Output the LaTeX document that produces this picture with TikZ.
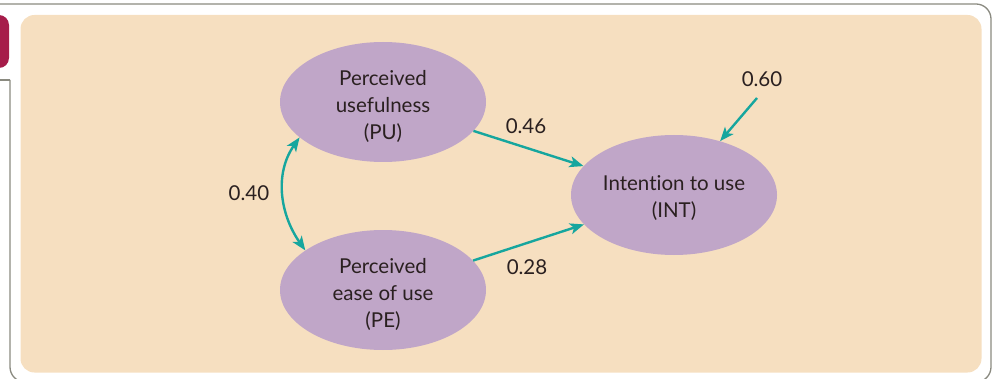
\documentclass[tikz,border=0pt]{standalone}
\usepackage{fontspec}
\setmainfont{Lato}[Ligatures=NoCommon]
\usetikzlibrary{arrows.meta,shapes.geometric}
\definecolor{beige}{RGB}{246,223,192}
\definecolor{lav}{RGB}{192,166,200}
\definecolor{teal2}{RGB}{22,166,158}
\definecolor{crim}{RGB}{166,28,74}
\definecolor{framegray}{RGB}{138,138,128}
\definecolor{txt}{RGB}{42,32,32}
\begin{document}
\begin{tikzpicture}[x=1pt,y=1pt,
  latent/.style={ellipse, fill=lav, minimum width=206pt, minimum height=120pt, inner sep=0pt},
  latenttext/.style={align=center, text=txt, font=\fontsize{20.5}{27}\selectfont, inner sep=0pt, yshift=-4pt},
  coef/.style={text=txt, font=\fontsize{20.5}{24}\selectfont, inner sep=1pt},
  path arrow/.style={draw=teal2, line width=2.4pt, -{Stealth[length=14pt,width=11pt,inset=3.5pt]}},
  dbl arrow/.style={draw=teal2, line width=2.4pt, {Stealth[length=14pt,width=11pt,inset=3.5pt]}-{Stealth[length=14pt,width=11pt,inset=3.5pt]}},
  frameline/.style={draw=framegray, line width=1.3pt}]
\useasboundingbox (0,0) rectangle (995,378);
% outer frame
\draw[frameline] (0,298) -- (10,298);
\draw[frameline, rounded corners=15pt] (10,298) -- (10,-4) -- (991,-4) -- (991,374) -- (0,374);
% tab
\fill[crim, rounded corners=10pt] (-20,310) rectangle (9,363);
% panel
\fill[beige, rounded corners=14pt] (20.5,5.5) rectangle (981.5,363);
% nodes
\node[latent] (PU) at (383,276) {};
\node[latent] (PE) at (383,88) {};
\node[latent] (INT) at (674,183) {};
\node[latenttext] (PUt) at (PU) {Perceived\\usefulness\\(PU)};
\node[latenttext] (PEt) at (PE) {Perceived\\ease of use\\(PE)};
\node[latenttext, yshift=1pt] (INTt) at (INT) {Intention to use\\(INT)};
\node[coef] (c46) at (526,252) {0.46};
\node[coef] (c28) at (527,111) {0.28};
\node[coef] (c60) at (762,299) {0.60};
\node[coef] (c40) at (249,185) {0.40};
\coordinate (e60) at (757,280);
% connectors
\draw[path arrow] (PU) -- (INT);
\draw[path arrow] (PE) -- (INT);
\draw[path arrow] (e60) -- (INT);
\draw[dbl arrow] (PU.203) to[out=235,in=125] (PE.153);
\end{tikzpicture}
\end{document}
